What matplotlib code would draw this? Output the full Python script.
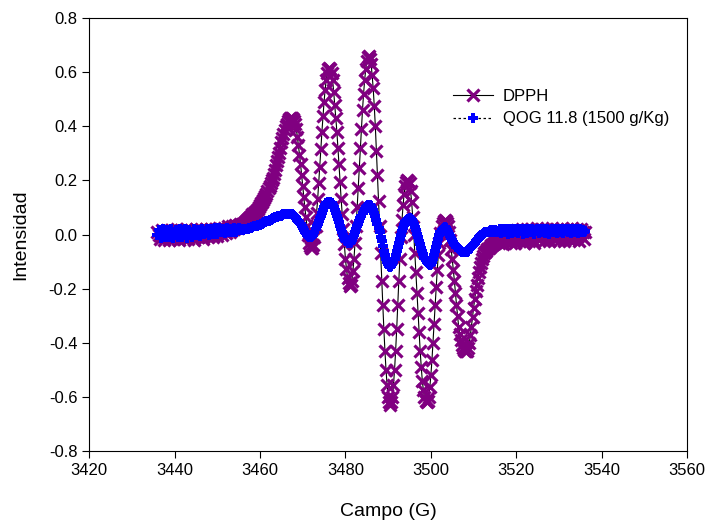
import numpy as np
import matplotlib
matplotlib.use("Agg")
import matplotlib.pyplot as plt

plt.rcParams['font.family'] = ['Liberation Sans', 'DejaVu Sans']

# field sweep (G), 0.25 G steps
campo = np.arange(3436.0, 3536.001, 0.25)

dpph = [
    # 3436.00 - 3455.75
    0.010, 0.000, -0.015, -0.005, 0.015, 0.005, -0.020, -0.010, 0.010, 0.015,
    -0.005, -0.020, 0.000, 0.015, 0.005, -0.015, -0.010, 0.010, 0.020, -0.005,
    -0.020, 0.000, 0.015, 0.010, -0.010, -0.015, 0.005, 0.020, 0.000, -0.015,
    -0.005, 0.015, 0.010, -0.010, -0.020, 0.005, 0.020, 0.010, -0.010, -0.005,
    0.015, 0.020, -0.005, -0.015, 0.005, 0.020, 0.015, -0.010, -0.005, 0.010,
    0.020, 0.005, -0.010, 0.000, 0.020, 0.015, -0.005, 0.005, 0.025, 0.010,
    0.000, 0.015, 0.025, 0.010, 0.005, 0.020, 0.030, 0.015, 0.010, 0.025,
    0.030, 0.020, 0.020, 0.035, 0.030, 0.025, 0.035, 0.040, 0.035, 0.040,
    # 3456.00 - 3515.75
    0.040, 0.043, 0.045, 0.050, 0.055, 0.058, 0.060, 0.065,
    0.070, 0.075, 0.080, 0.083, 0.085, 0.090, 0.095, 0.102,
    0.110, 0.115, 0.120, 0.128, 0.135, 0.142, 0.150, 0.160,
    0.170, 0.180, 0.190, 0.200, 0.210, 0.225, 0.240, 0.255,
    0.270, 0.285, 0.300, 0.320, 0.340, 0.355, 0.370, 0.385,
    0.400, 0.410, 0.420, 0.425, 0.430, 0.432, 0.430, 0.427,
    0.420, 0.408, 0.390, 0.362, 0.330, 0.295, 0.260, 0.220,
    0.180, 0.140, 0.100, 0.065, 0.030, 0.000, -0.030, -0.043,
    -0.050, -0.050, -0.040, -0.010, 0.030, 0.078, 0.130, 0.190,
    0.250, 0.315, 0.380, 0.438, 0.490, 0.535, 0.570, 0.595,
    0.610, 0.615, 0.610, 0.595, 0.570, 0.528, 0.480, 0.430,
    0.380, 0.320, 0.260, 0.195, 0.130, 0.075, 0.020, -0.035,
    -0.090, -0.128, -0.160, -0.180, -0.190, -0.185, -0.170, -0.135,
    -0.090, -0.030, 0.030, 0.100, 0.170, 0.245, 0.320, 0.390,
    0.460, 0.520, 0.570, 0.610, 0.640, 0.655, 0.660, 0.650,
    0.630, 0.590, 0.540, 0.475, 0.400, 0.310, 0.220, 0.125,
    0.030, -0.070, -0.170, -0.260, -0.350, -0.430, -0.500, -0.555,
    -0.600, -0.620, -0.630, -0.620, -0.600, -0.555, -0.500, -0.430,
    -0.350, -0.260, -0.170, -0.090, -0.010, 0.055, 0.110, 0.150,
    0.180, 0.195, 0.200, 0.198, 0.190, 0.160, 0.120, 0.065,
    0.000, -0.070, -0.140, -0.215, -0.290, -0.360, -0.430, -0.490,
    -0.540, -0.575, -0.600, -0.615, -0.620, -0.615, -0.600, -0.565,
    -0.520, -0.465, -0.400, -0.330, -0.260, -0.195, -0.130, -0.075,
    -0.030, 0.005, 0.030, 0.043, 0.050, 0.053, 0.050, 0.043,
    0.030, 0.008, -0.020, -0.055, -0.090, -0.130, -0.170, -0.215,
    -0.260, -0.300, -0.340, -0.368, -0.390, -0.408, -0.420, -0.427,
    -0.430, -0.432, -0.430, -0.418, -0.400, -0.372, -0.340, -0.305,
    -0.270, -0.240, -0.210, -0.185, -0.160, -0.140, -0.120, -0.105,
    -0.090, -0.080, -0.070, -0.065, -0.060, -0.055, -0.050, -0.045,
    -0.040, -0.038, -0.035, -0.033, -0.030, -0.028, -0.025, -0.022,
    # 3516.00 - 3536.00
    -0.030, -0.010, 0.005, -0.020, -0.035, -0.015, 0.000, -0.025, -0.010, 0.010,
    -0.015, -0.030, -0.005, 0.010, -0.020, -0.030, 0.000, 0.015, -0.010, -0.025,
    0.005, 0.020, -0.005, -0.030, -0.015, 0.010, 0.020, -0.010, -0.025, 0.000,
    0.020, 0.005, -0.020, -0.030, 0.010, 0.025, 0.000, -0.020, -0.010, 0.015,
    0.020, -0.005, -0.025, 0.000, 0.020, 0.010, -0.015, -0.025, 0.005, 0.025,
    0.010, -0.015, -0.020, 0.010, 0.020, -0.005, -0.025, 0.000, 0.020, 0.015,
    -0.010, -0.025, 0.005, 0.020, 0.010, -0.015, -0.020, 0.010, 0.025, 0.000,
    -0.020, -0.010, 0.015, 0.020, -0.005, -0.025, 0.000, 0.020, 0.010, -0.015,
    0.010,
]

qog = [
    # 3436.00 - 3455.75
    0.000, 0.015, 0.005, -0.012, 0.002, 0.020, 0.008, -0.010, 0.000, 0.015,
    0.012, -0.010, 0.005, 0.020, 0.002, -0.012, 0.010, 0.018, 0.000, -0.010,
    0.008, 0.020, 0.005, -0.008, 0.002, 0.015, 0.020, 0.000, -0.012, 0.010,
    0.018, 0.005, -0.008, 0.008, 0.022, 0.010, 0.000, 0.005, 0.018, 0.012,
    -0.005, 0.008, 0.022, 0.010, 0.002, 0.012, 0.022, 0.005, -0.002, 0.015,
    0.022, 0.008, 0.002, 0.015, 0.025, 0.010, 0.002, 0.018, 0.024, 0.008,
    0.008, 0.022, 0.015, 0.005, 0.015, 0.025, 0.012, 0.008, 0.022, 0.018,
    0.008, 0.015, 0.025, 0.015, 0.010, 0.020, 0.025, 0.015, 0.018, 0.022,
    # 3456.00 - 3515.75
    0.018, 0.020, 0.020, 0.020, 0.020, 0.022, 0.025, 0.025,
    0.025, 0.028, 0.030, 0.030, 0.030, 0.032, 0.035, 0.035,
    0.035, 0.038, 0.040, 0.042, 0.045, 0.048, 0.050, 0.050,
    0.050, 0.052, 0.055, 0.058, 0.060, 0.062, 0.065, 0.065,
    0.065, 0.068, 0.070, 0.070, 0.070, 0.072, 0.075, 0.075,
    0.075, 0.075, 0.075, 0.075, 0.075, 0.075, 0.075, 0.073,
    0.070, 0.065, 0.060, 0.055, 0.050, 0.045, 0.040, 0.032,
    0.025, 0.018, 0.010, 0.005, 0.000, -0.005, -0.010, -0.010,
    -0.010, -0.005, 0.000, 0.010, 0.020, 0.030, 0.040, 0.050,
    0.060, 0.070, 0.080, 0.090, 0.100, 0.108, 0.115, 0.118,
    0.120, 0.121, 0.120, 0.116, 0.110, 0.100, 0.090, 0.080,
    0.070, 0.058, 0.045, 0.032, 0.020, 0.010, 0.000, -0.010,
    -0.020, -0.025, -0.030, -0.031, -0.030, -0.026, -0.020, -0.010,
    0.000, 0.010, 0.020, 0.030, 0.040, 0.050, 0.060, 0.070,
    0.080, 0.088, 0.095, 0.100, 0.105, 0.108, 0.110, 0.108,
    0.105, 0.098, 0.090, 0.080, 0.070, 0.055, 0.040, 0.025,
    0.010, -0.008, -0.025, -0.043, -0.060, -0.075, -0.090, -0.100,
    -0.110, -0.116, -0.120, -0.116, -0.110, -0.100, -0.090, -0.075,
    -0.060, -0.045, -0.030, -0.015, 0.000, 0.013, 0.025, 0.035,
    0.045, 0.050, 0.055, 0.058, 0.060, 0.058, 0.055, 0.048,
    0.040, 0.028, 0.015, 0.002, -0.010, -0.023, -0.035, -0.048,
    -0.060, -0.073, -0.085, -0.093, -0.100, -0.105, -0.110, -0.111,
    -0.110, -0.100, -0.090, -0.075, -0.060, -0.045, -0.030, -0.015,
    0.000, 0.008, 0.015, 0.020, 0.025, 0.026, 0.025, 0.018,
    0.010, 0.002, -0.005, -0.012, -0.020, -0.028, -0.035, -0.040,
    -0.045, -0.050, -0.055, -0.058, -0.060, -0.063, -0.065, -0.065,
    -0.065, -0.066, -0.065, -0.060, -0.055, -0.050, -0.045, -0.040,
    -0.035, -0.030, -0.025, -0.020, -0.015, -0.010, -0.005, -0.002,
    0.000, 0.003, 0.005, 0.008, 0.010, 0.010, 0.010, 0.012,
    0.015, 0.012, 0.010, 0.012, 0.015, 0.012, 0.010, 0.014,
    # 3516.00 - 3536.00
    0.010, 0.020, 0.005, 0.015, 0.022, 0.008, 0.012, 0.020, 0.002, 0.015,
    0.022, 0.010, 0.005, 0.018, 0.020, 0.008, 0.015, 0.022, 0.005, 0.012,
    0.020, 0.015, 0.002, 0.010, 0.022, 0.012, 0.005, 0.018, 0.020, 0.008,
    0.012, 0.022, 0.010, 0.002, 0.015, 0.020, 0.012, 0.005, 0.018, 0.022,
    0.008, 0.015, 0.020, 0.005, 0.012, 0.022, 0.015, 0.002, 0.010, 0.020,
    0.015, 0.008, 0.022, 0.012, 0.005, 0.018, 0.020, 0.010, 0.015, 0.022,
    0.005, 0.012, 0.020, 0.015, 0.008, 0.022, 0.010, 0.005, 0.018, 0.020,
    0.012, 0.008, 0.022, 0.015, 0.005, 0.018, 0.020, 0.010, 0.015, 0.008,
    0.012,
]

x_ticks = [3420, 3440, 3460, 3480, 3500, 3520, 3540, 3560]
y_ticks = [-0.8, -0.6, -0.4, -0.2, 0.0, 0.2, 0.4, 0.6, 0.8]

fig = plt.figure(figsize=(7.07, 5.27), dpi=100)
ax = fig.add_axes([0.126, 0.144, 0.846, 0.822])

ax.plot(campo, dpph, color='black', lw=0.8, marker='x', markersize=8.5,
        markeredgewidth=2.3, markeredgecolor='#800080', label='DPPH')
ax.plot(campo, qog, color='black', lw=0.9, ls=(0, (2, 2)), marker='P', markersize=7,
        markeredgewidth=0, markerfacecolor='#0000ff', label='QOG 11.8 (1500 g/Kg)')

ax.set_xlim(3420, 3560)
ax.set_ylim(-0.8, 0.8)
ax.set_xticks(x_ticks)
ax.set_yticks(y_ticks)
ax.set_yticklabels(['%.1f' % v for v in y_ticks])
ax.tick_params(direction='out', length=5, labelsize=12, top=False, right=False)

ax.set_xlabel('Campo (G)', fontsize=14, labelpad=18)
ax.set_ylabel('Intensidad', fontsize=14, labelpad=14)

ax.legend(loc='upper left', bbox_to_anchor=(0.609, 0.836), frameon=False,
          fontsize=12, handlelength=2.4, handletextpad=0.55, labelspacing=0.45,
          borderpad=0, borderaxespad=0)

fig.savefig('out.png', dpi=100)
